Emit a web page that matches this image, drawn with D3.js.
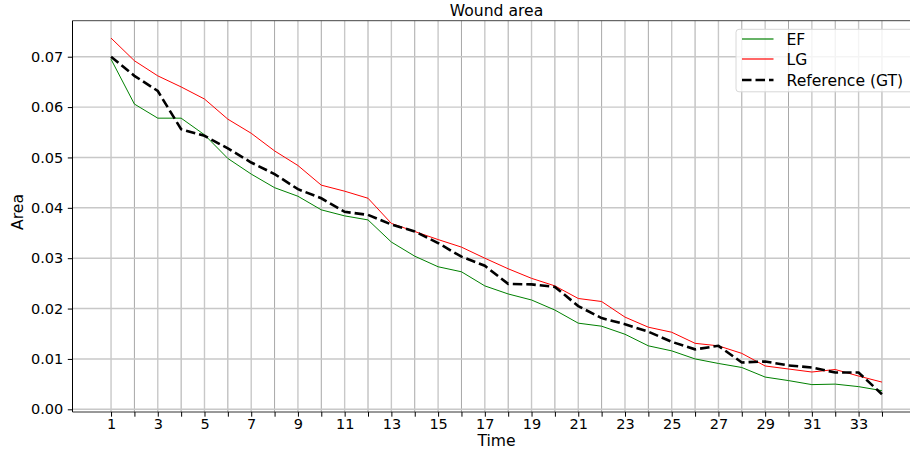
<!DOCTYPE html>
<html>
<head>
<meta charset="utf-8">
<script src="https://cdn.jsdelivr.net/npm/d3@7"></script>
<style>
  html, body { margin: 0; padding: 0; background: #fff; overflow: hidden; }
  svg { display: block; font-family: "DejaVu Sans", sans-serif; }
</style>
</head>
<body>
<svg id="chart" width="910" height="452"></svg>
<script>
const time = [1,2,3,4,5,6,7,8,9,10,11,12,13,14,15,16,17,18,19,20,21,22,23,24,25,26,27,28,29,30,31,32,33,34];
const efValues = [0.0695,0.0606,0.0578,0.0578,0.0545,0.0498,0.0467,0.0440,0.0423,0.0396,0.0384,0.0376,0.0332,0.0304,0.0283,0.0273,0.0245,0.0229,0.0217,0.0197,0.0171,0.0165,0.0149,0.0126,0.0116,0.0100,0.0091,0.0083,0.0064,0.0057,0.0049,0.0050,0.0045,0.0037];
const lgValues = [0.0737,0.0692,0.0662,0.0640,0.0616,0.0576,0.0548,0.0513,0.0484,0.0445,0.0433,0.0419,0.0369,0.0353,0.0337,0.0322,0.0300,0.0279,0.0260,0.0245,0.0220,0.0214,0.0183,0.0163,0.0153,0.0131,0.0126,0.0111,0.0086,0.0080,0.0074,0.0079,0.0066,0.0054];
const gtValues = [0.0700,0.0662,0.0632,0.0556,0.0543,0.0518,0.0490,0.0467,0.0437,0.0419,0.0392,0.0386,0.0367,0.0353,0.0330,0.0303,0.0285,0.0249,0.0248,0.0243,0.0205,0.0181,0.0169,0.0154,0.0134,0.0119,0.0126,0.0093,0.0095,0.0087,0.0083,0.0073,0.0073,0.0030];
const yTicks = [0.00,0.01,0.02,0.03,0.04,0.05,0.06,0.07];
const seriesNames = ["EF","LG","Reference (GT)"];
const titleText = "Wound area";
const xLabel = "Time";
const yLabel = "Area";

const svg = d3.select("#chart");
const L = 72.5, R = 920.5, T = 20.7, B = 412;
const x = d3.scaleLinear().domain([-0.65, 35.65]).range([L, R]);
const y = d3.scaleLinear().domain([-0.000536, 0.07715]).range([B, T]);
const FS = "14.5px";
const FL = "15.6px";

svg.append("defs").append("clipPath").attr("id","clip")
  .append("rect").attr("x",L).attr("y",T).attr("width",R-L).attr("height",B-T);

// grid
const g = svg.append("g");
g.selectAll(".vg").data(time).enter().append("line")
  .attr("x1", d => x(d)).attr("x2", d => x(d)).attr("y1", T).attr("y2", B)
  .attr("stroke", d => d % 2 === 1 ? "#c8c8c8" : "#a8a8a8")
  .attr("stroke-width", d => d % 2 === 1 ? 1.4 : 1);
g.selectAll(".hg").data(yTicks).enter().append("line")
  .attr("x1", L).attr("x2", R).attr("y1", d => y(d)).attr("y2", d => y(d))
  .attr("stroke", "#c8c8c8").attr("stroke-width", 1.4);

// lines
const line = vals => d3.line().x((d,i) => x(time[i])).y(d => y(d))(vals);
const lg = svg.append("g").attr("clip-path","url(#clip)");
lg.append("path").attr("d", line(efValues)).attr("fill","none").attr("stroke","#008000").attr("stroke-width",1);
lg.append("path").attr("d", line(lgValues)).attr("fill","none").attr("stroke","#ff0000").attr("stroke-width",1);
lg.append("path").attr("d", line(gtValues)).attr("fill","none").attr("stroke","#000").attr("stroke-width",2.6)
  .attr("stroke-dasharray","9.5,4");

// spines
svg.append("line").attr("x1",L).attr("x2",R).attr("y1",T).attr("y2",T).attr("stroke","#444").attr("stroke-width",1);

// axes
const yAxis = d3.axisLeft(y).tickValues(yTicks).tickFormat(d3.format(".2f")).tickSize(4.7).tickPadding(4.5);
const ya = svg.append("g").attr("transform", `translate(${L},0)`).call(yAxis);
ya.select(".domain").attr("stroke","#000").attr("stroke-width",1).attr("d", `M0,${T}V${B}`);
ya.selectAll("text").attr("font-size", FS).attr("fill","#000").attr("font-family","DejaVu Sans");

const xAxis = d3.axisBottom(x).tickValues(time).tickFormat(d => d % 2 === 1 ? d : "").tickSize(4.7).tickPadding(2);
const xa = svg.append("g").attr("transform", `translate(0,${B})`).call(xAxis);
xa.select(".domain").attr("stroke","#333").attr("stroke-width",1).attr("d", `M${L},0H${R}`);
xa.selectAll("text").attr("font-size", FS).attr("fill","#000").attr("font-family","DejaVu Sans");

// labels
svg.append("text").attr("x",(L+R)/2).attr("y",15.5).attr("text-anchor","middle").attr("font-size",FL).text(titleText);
svg.append("text").attr("x",(L+R)/2).attr("y",446).attr("text-anchor","middle").attr("font-size",FL).text(xLabel);
svg.append("text").attr("transform","translate(23,212) rotate(-90)").attr("text-anchor","middle").attr("font-size",FL).text(yLabel);

// legend
const leg = svg.append("g");
leg.append("rect").attr("x",736).attr("y",29.3).attr("width",178).attr("height",62.5).attr("rx",3)
  .attr("fill","#fff").attr("fill-opacity",0.8).attr("stroke","#d8d8d8").attr("stroke-width",1);
const legItems = [
  {name: seriesNames[0], color:"#008000", w:1.2, dash:null, yy:39},
  {name: seriesNames[1], color:"#ff0000", w:1.2, dash:null, yy:59},
  {name: seriesNames[2], color:"#000000", w:2.6, dash:"9.5,4", yy:80}
];
legItems.forEach(it => {
  const l = leg.append("line").attr("x1",742).attr("x2",773.5).attr("y1",it.yy).attr("y2",it.yy)
    .style("stroke",it.color).attr("stroke-width",it.w);
  if (it.dash) l.attr("stroke-dasharray", it.dash);
  leg.append("text").attr("x",786.5).attr("y",it.yy+5.5).attr("font-size",FL).text(it.name);
});
</script>
</body>
</html>
